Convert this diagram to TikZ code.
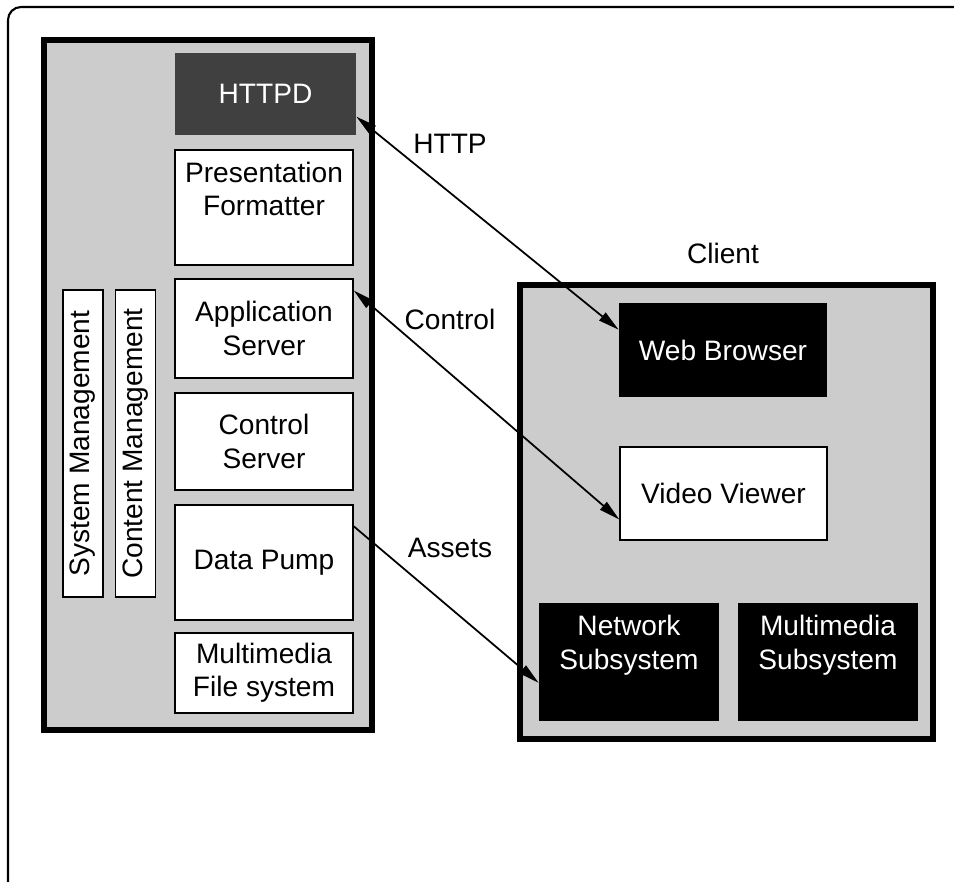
\documentclass[tikz,border=0pt]{standalone}
\usepackage{fontspec}
\setmainfont{Liberation Sans}
\usetikzlibrary{arrows.meta,positioning}

\begin{document}
\begin{tikzpicture}[x=0.02cm,y=-0.02cm,
  every node/.style={font=\fontsize{16}{19}\selectfont},
  frame/.style={draw,line width=3.4pt,fill=black!20},
  wbox/.style={draw,line width=0.8pt,fill=white,align=center,inner sep=0pt},
  bbox/.style={fill=black,text=white,align=center,inner sep=0pt},
  toptext/.style={label={[align=center,anchor=north,yshift=-0.13cm]north:#1}},
  wtoptext/.style={label={[align=center,anchor=north,yshift=-0.13cm,text=white]north:#1}},
  link/.style={line width=1pt,{Triangle[length=0.42cm,width=0.2cm]}-{Triangle[length=0.42cm,width=0.2cm]}},
  feed/.style={line width=1pt,-{Triangle[length=0.42cm,width=0.2cm]}}]
\clip (0,0) rectangle (954,882);
\draw[line width=1.2pt,rounded corners=0.26cm] (8,900) -- (8,7) -- (970,7);

% server side
\node[frame,minimum width=6.56cm,minimum height=13.8cm] (server) at (208,385) {};
\node[fill=black!75,text=white,minimum width=3.62cm,minimum height=1.64cm] (httpd) at (265.5,94) {HTTPD};
\node[wbox,minimum width=3.56cm,minimum height=2.3cm,toptext=Presentation\\Formatter] (pform) at (264,207.5) {};
\node[wbox,minimum width=3.56cm,minimum height=1.98cm] (appsrv) at (264,328.5) {Application\\Server};
\node[wbox,minimum width=3.56cm,minimum height=1.94cm] (ctlsrv) at (264,441.5) {Control\\Server};
\node[wbox,minimum width=3.56cm,minimum height=2.3cm] (dpump) at (264,562.5) {Data Pump};
\node[wbox,minimum width=3.56cm,minimum height=1.6cm] (mmfs) at (264,673) {Multimedia\\File system};
\node[wbox,rotate=90,minimum width=6.14cm,minimum height=0.8cm] (sysmgmt) at (83,443.5) {System Management};
\node[wbox,rotate=90,minimum width=6.14cm,minimum height=0.8cm] (cntmgmt) at (135.5,443.5) {Content Management};

% client side
\node[frame,minimum width=8.26cm,minimum height=9.08cm] (client) at (726.5,512) {};
\node (clientlbl) at (723,253) {Client};
\node[bbox,minimum width=4.16cm,minimum height=1.88cm] (wbrow) at (723,350) {Web Browser};
\node[wbox,minimum width=4.14cm,minimum height=1.86cm] (vview) at (723.5,493.5) {Video Viewer};
\node[bbox,minimum width=3.6cm,minimum height=2.36cm,wtoptext=Network\\Subsystem] (netsub) at (629,662) {};
\node[bbox,minimum width=3.6cm,minimum height=2.36cm,wtoptext=Multimedia\\Subsystem] (mmsub) at (828,662) {};

% flows
\draw[link] (httpd.-14) -- (wbrow.169);
\draw[link] (appsrv.23) -- (vview.194);
\draw[feed] (dpump.22) -- (netsub.193);
\node (httplbl) at (450,144) {HTTP};
\node (ctllbl) at (450,319) {Control};
\node (assetlbl) at (450,548) {Assets};
\end{tikzpicture}
\end{document}
